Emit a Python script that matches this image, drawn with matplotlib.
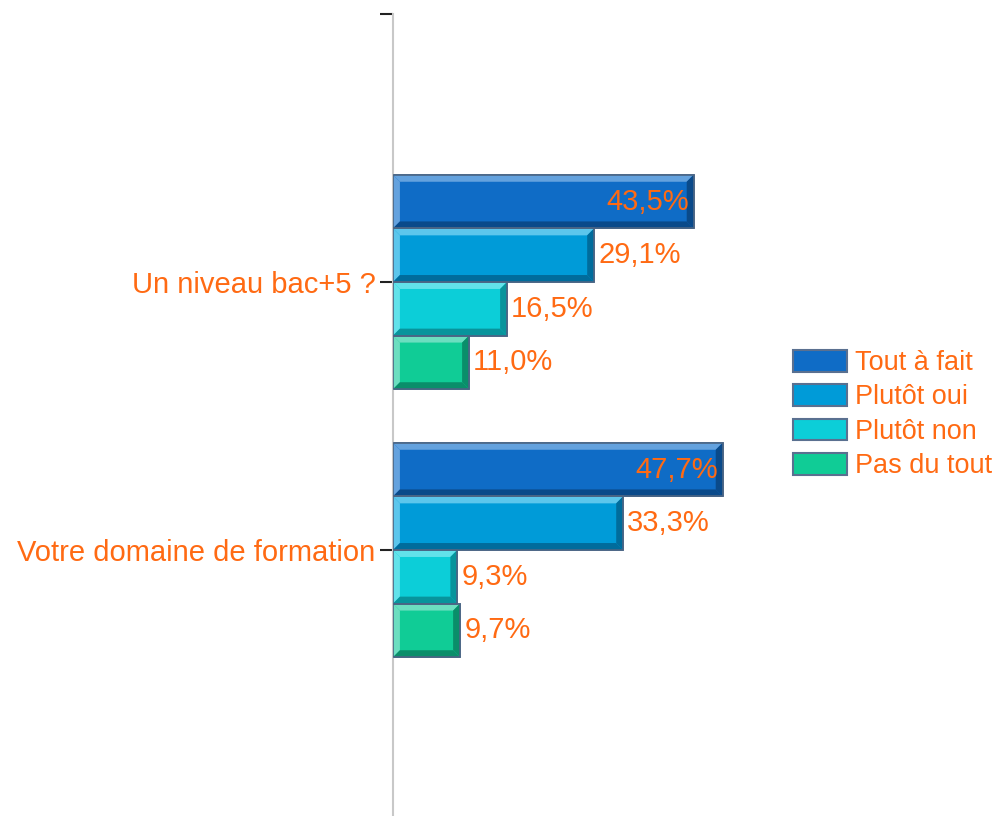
import numpy as np
import matplotlib
matplotlib.use("Agg")
import matplotlib.pyplot as plt
from matplotlib.patches import Polygon, Patch

# data
questions = ["Un niveau bac+5 ?", "Votre domaine de formation"]
answers = ["Tout à fait", "Plutôt oui", "Plutôt non", "Pas du tout"]
bac5 = [43.5, 29.1, 16.5, 11.0]
domaine = [47.7, 33.3, 9.3, 9.7]

base_cols = ["#0F6CC6", "#009BD8", "#0CCED8", "#10CC96"]
light_cols = ["#64A2DE", "#5CC6EC", "#62E2EA", "#6CDEC0"]
dark_cols = ["#0A4A8A", "#006C9C", "#08949C", "#0A8E6A"]
outline = "#4A6585"
orange = "#FF6A13"

plt.rcParams['font.family'] = ['Liberation Sans', 'DejaVu Sans']

fig = plt.figure(figsize=(9.95, 8.16), dpi=100)
ax = fig.add_axes([393 / 995, -2 / 816, (780 - 393) / 995, (818 - 14) / 816])

values = np.array([bac5, domaine])
centers = np.arange(1, len(questions) + 1)
h = 0.2
offsets = (np.arange(len(answers)) - 1.5) * h

# bevel size in data units
bx = 1.0
by = 0.026

for i, ans in enumerate(answers):
    ax.barh(centers + offsets[i], values[:, i], height=h, color=base_cols[i],
            edgecolor=outline, linewidth=1.2, zorder=2)

for g, c in enumerate(centers):
    vmax = values[g].max()
    for i in range(len(answers)):
        v = values[g, i]
        y = c + offsets[i]
        y0, y1 = y - h / 2, y + h / 2
        top = [(0, y0), (v, y0), (v - bx, y0 + by), (bx, y0 + by)]
        left = [(0, y0), (bx, y0 + by), (bx, y1 - by), (0, y1)]
        bottom = [(0, y1), (bx, y1 - by), (v - bx, y1 - by), (v, y1)]
        right = [(v, y0), (v, y1), (v - bx, y1 - by), (v - bx, y0 + by)]
        for pts, col in [(top, light_cols[i]), (left, light_cols[i]),
                         (bottom, dark_cols[i]), (right, dark_cols[i])]:
            ax.add_patch(Polygon(pts, closed=True, facecolor=col,
                                 edgecolor="none", zorder=3))
        ax.add_patch(Polygon([(0, y0), (v, y0), (v, y1), (0, y1)], closed=True,
                             facecolor="none", edgecolor=outline,
                             linewidth=1.2, zorder=4))
        lab = ("%.1f%%" % v).replace(".", ",")
        if v == vmax:
            ax.annotate(lab, (v, y), xytext=(-3, 0), textcoords="offset points",
                        ha="right", va="center", color=orange, fontsize=21,
                        zorder=5)
        else:
            ax.annotate(lab, (v, y), xytext=(3, 0), textcoords="offset points",
                        ha="left", va="center", color=orange, fontsize=21,
                        zorder=5)

ax.set_xlim(0, 56)
ax.set_ylim(3, 0)
ax.set_yticks([0] + list(centers))
ax.set_yticklabels([""] + questions, color=orange, fontsize=21)
ax.tick_params(axis="y", length=9.5, width=1.5, color="#222222", pad=3)
ax.set_xticks([])
for s in ["top", "right", "bottom"]:
    ax.spines[s].set_visible(False)
ax.spines["left"].set_color("#C8C8C8")
ax.spines["left"].set_linewidth(1.5)

handles = [Patch(facecolor=col, edgecolor="#5A7090", linewidth=1.5) for col in base_cols]
leg = fig.legend(handles, answers, loc="upper left",
                 bbox_to_anchor=(793 / 995, 1 - 350 / 816), frameon=False,
                 fontsize=19.5, handlelength=2.0, handleheight=0.85,
                 handletextpad=0.3, labelspacing=0.3, borderpad=0, borderaxespad=0)
for t in leg.get_texts():
    t.set_color(orange)

fig.savefig("out.png", dpi=100)
